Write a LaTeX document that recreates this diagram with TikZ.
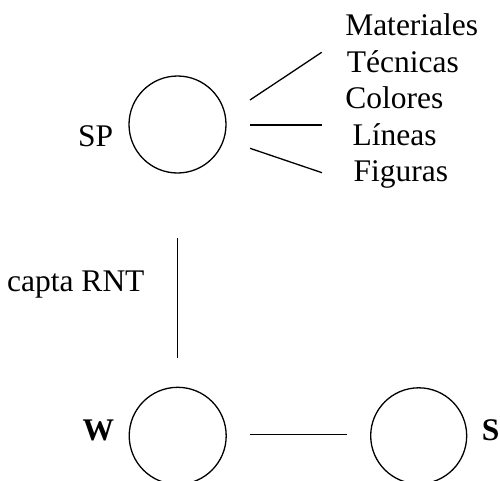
\documentclass[tikz,border=0pt]{standalone}
\usepackage{fontspec}
\setmainfont{Liberation Serif}
\begin{document}
\begin{tikzpicture}[x=1pt,y=-1pt,
  line width=1.3pt,
  ring/.style={draw,circle,minimum size=97pt,inner sep=0pt},
  lbl/.style={inner sep=0pt,font=\fontsize{31.5}{36}\selectfont},
  item/.style={lbl,anchor=base west}]
\useasboundingbox (0,0) rectangle (500,480);

% circles
\node[ring] (sp) at (177.5,124.5) {};
\node[ring] (w) at (177.7,435.8) {};
\node[ring,minimum size=96pt] (s) at (418.7,435.8) {};

% labels
\node[lbl,anchor=base east] (spl) at (113.8,146.7) {SP};
\node[lbl,anchor=base west,font=\fontsize{31.5}{36}\selectfont\bfseries] (wl) at (82,440) {W};
\node[lbl,anchor=base west,font=\fontsize{31.5}{36}\selectfont\bfseries] (sl) at (481.3,440.7) {S};
\node[item] (capta) at (6.5,291.7) {capta RNT};

% attribute list
\node[item] (mat) at (344.6,35.7) {Materiales};
\node[item] (tec) at (346.2,72.2) {Técnicas};
\node[item] (col) at (344.8,108.7) {Colores};
\node[item] (lin) at (352,145.2) {Líneas};
\node[item] (fig) at (353,181.7) {Figuras};

% connector end points
\coordinate (a1) at (250,100);
\coordinate (b1) at (321.7,52.3);
\coordinate (a2) at (250,125);
\coordinate (b2) at (322,125);
\coordinate (a3) at (250,148.3);
\coordinate (b3) at (322,172.7);
\coordinate (v1) at (177.7,238.3);
\coordinate (v2) at (177.7,358.3);
\coordinate (h1) at (250,434.3);
\coordinate (h2) at (346.7,434.3);

\draw (a1) -- (b1);
\draw (a2) -- (b2);
\draw (a3) -- (b3);
\draw (v1) -- (v2);
\draw (h1) -- (h2);
\end{tikzpicture}
\end{document}
